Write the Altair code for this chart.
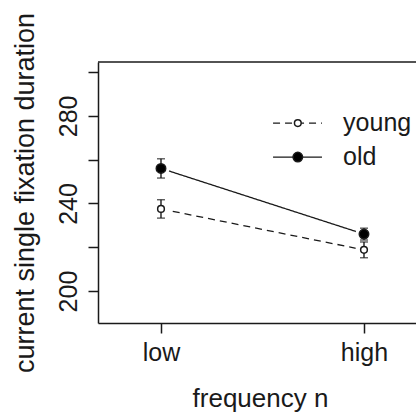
import altair as alt
import pandas as pd

# ---- data ----
frequency = ["low", "high"]
groups = ["young", "old"]
young_mean = [237.5, 218.8]
young_err = [4.2, 3.6]
old_mean = [256.0, 226.0]
old_err = [4.4, 2.7]
y_ticks = [200, 220, 240, 260, 280, 300]

# legend entries (placed in data space, inside the plot like R's legend())
legend_labels = ["young", "old"]
legend_y = [276.7, 261.2]
legend_text_y = [273.1, 257.5]
legend_x_start, legend_x_mid, legend_x_end, legend_x_text = 1.552, 1.674, 1.793, 1.897

rows = []
for i, f in enumerate(frequency):
    rows.append({"freq": f, "pos": i + 1, "series": "young", "mean": young_mean[i],
                 "lo": young_mean[i] - young_err[i], "hi": young_mean[i] + young_err[i]})
    rows.append({"freq": f, "pos": i + 1, "series": "old", "mean": old_mean[i],
                 "lo": old_mean[i] - old_err[i], "hi": old_mean[i] + old_err[i]})
df = pd.DataFrame(rows)

leg_df = pd.DataFrame({
    "series": legend_labels,
    "y": legend_y,
    "ty": legend_text_y,
    "x0": [legend_x_start] * 2,
    "xm": [legend_x_mid] * 2,
    "x1": [legend_x_end] * 2,
    "xt": [legend_x_text] * 2,
})

FONT = "Liberation Sans"
W, H = 318, 261
INK = "#1a1a1a"

xscale = alt.Scale(domain=[0.6897, 2.2562], nice=False, zero=False)
yscale = alt.Scale(domain=[185.4, 304.6], nice=False, zero=False)

x_enc = alt.X("pos:Q", scale=xscale, axis=alt.Axis(
    values=[1, 2], labelExpr="datum.value == 1 ? 'low' : 'high'",
    tickSize=10, labelPadding=7, grid=False,
    title="frequency n", titleX=162, titleY=83, titleBaseline="alphabetic",
    titleAlign="center", titleFontSize=26, labelFontSize=25))
y_enc = alt.Y("mean:Q", scale=yscale, axis=alt.Axis(
    values=y_ticks, labelExpr="datum.value % 40 == 0 ? datum.label : ''",
    tickSize=10, labelAngle=270, labelAlign="center", labelBaseline="alphabetic",
    labelPadding=12, grid=False,
    title="current single fixation duration", titleAngle=270, titleX=-65,
    titleY=130.5, titleAlign="center", titleBaseline="alphabetic",
    titleFontSize=27, labelFontSize=25))

dash_scale = alt.Scale(domain=groups, range=[[7, 5], [1, 0]])
fill_scale = alt.Scale(domain=groups, range=["white", "black"])
size_scale = alt.Scale(domain=groups, range=[45, 90])

base = alt.Chart(df)

lines = base.mark_line(color=INK, strokeWidth=1.3).encode(
    x=x_enc, y=y_enc,
    strokeDash=alt.StrokeDash("series:N", scale=dash_scale, legend=None),
    detail="series:N")

# white discs leave the small gaps around the points (like R's type = "b")
gaps = base.mark_circle(color="white", opacity=1, size=290).encode(
    x="pos:Q", y="mean:Q")

bars = base.mark_rule(color=INK, strokeWidth=1.4).encode(
    x="pos:Q", y="lo:Q", y2="hi:Q")
cap_lo = base.mark_tick(color=INK, orient="horizontal", size=8, thickness=1.4).encode(
    x="pos:Q", y="lo:Q")
cap_hi = base.mark_tick(color=INK, orient="horizontal", size=8, thickness=1.4).encode(
    x="pos:Q", y="hi:Q")

pts = base.mark_point(shape="circle", filled=True, stroke=INK, strokeWidth=1.5, opacity=1).encode(
    x="pos:Q", y="mean:Q",
    fill=alt.Fill("series:N", scale=fill_scale, legend=None),
    size=alt.Size("series:N", scale=size_scale, legend=None))

lbase = alt.Chart(leg_df)
leg_lines = lbase.mark_rule(color=INK, strokeWidth=1.3).encode(
    x="x0:Q", x2="x1:Q", y="y:Q",
    strokeDash=alt.StrokeDash("series:N", scale=dash_scale, legend=None))
leg_pts = lbase.mark_point(shape="circle", filled=True, stroke=INK, strokeWidth=1.5, opacity=1).encode(
    x="xm:Q", y="y:Q",
    fill=alt.Fill("series:N", scale=fill_scale, legend=None),
    size=alt.Size("series:N", scale=size_scale, legend=None))
leg_text = lbase.mark_text(align="left", baseline="alphabetic", font=FONT, fontSize=25,
                           color=INK).encode(x="xt:Q", y="ty:Q", text="series:N")

top_border = alt.Chart(pd.DataFrame({"k": [0]})).mark_rule(color=INK, strokeWidth=1.5).encode(
    x=alt.value(0), x2=alt.value(W), y=alt.value(0))

chart = alt.layer(lines, gaps, bars, cap_lo, cap_hi, pts, leg_lines, leg_pts, leg_text,
                  top_border).properties(
    width=W, height=H,
    padding={"left": 98, "top": 62, "right": 0, "bottom": 91},
    autosize=alt.AutoSizeParams(type="none"),
    background="white",
).configure_view(stroke=None).configure_axis(
    domainColor=INK, tickColor=INK, domainWidth=1.5, tickWidth=1.5,
    labelColor=INK, titleColor=INK, labelFont=FONT, titleFont=FONT,
    titleFontWeight="normal",
)

chart.save("out.html", embed_options={"renderer": "svg", "actions": False})
